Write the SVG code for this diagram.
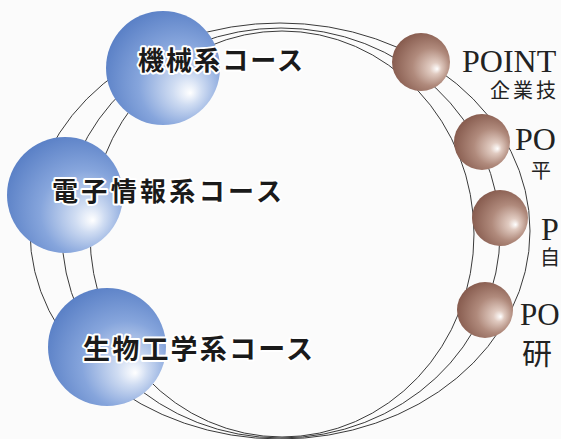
<svg xmlns="http://www.w3.org/2000/svg" width="561" height="439" viewBox="0 0 561 439">
<defs>
<radialGradient id="blue" cx="0.6" cy="0.6" r="0.64" fx="0.74" fy="0.72">
<stop offset="0" stop-color="#ffffff"/>
<stop offset="0.2" stop-color="#cfdcf2"/>
<stop offset="0.58" stop-color="#86a5dc"/>
<stop offset="1" stop-color="#5a80c6"/>
</radialGradient>
<radialGradient id="brown" cx="0.58" cy="0.55" r="0.62" fx="0.78" fy="0.62">
<stop offset="0" stop-color="#ffffff"/>
<stop offset="0.16" stop-color="#e0cac0"/>
<stop offset="0.52" stop-color="#b08a7c"/>
<stop offset="1" stop-color="#83574a"/>
</radialGradient>
<style>
.ring{fill:none;stroke:#3a3a3a;stroke-width:1}
.blue{fill:url(#blue)}
.brown{fill:url(#brown)}
.course{font-family:"Noto Sans CJK JP","Noto Sans CJK SC",sans-serif;font-weight:bold;fill:#1a1a1a;stroke:#ffffff;stroke-width:4;stroke-linejoin:round;paint-order:stroke}
.pt{font-family:"Liberation Serif","Noto Sans CJK JP",serif;fill:#222}
.sub{font-family:"Liberation Serif","Noto Sans CJK JP",serif;fill:#222}
</style>
</defs>
<rect width="561" height="439" fill="#fbfbfb"/>
<g id="connectors">
<ellipse class="ring" cx="280" cy="231" rx="250" ry="208"/>
<ellipse class="ring" cx="281" cy="233" rx="219" ry="205"/>
<ellipse class="ring" cx="282" cy="234" rx="192" ry="203"/>
</g>
<g id="kikai">
<circle class="blue" cx="163" cy="68" r="57"/>
<text class="course" x="138" y="70" font-size="26" textLength="165" lengthAdjust="spacing">機械系コース</text>
</g>
<g id="denshi">
<circle class="blue" cx="65" cy="195" r="58"/>
<text class="course" x="52" y="201" font-size="26" textLength="230" lengthAdjust="spacing">電子情報系コース</text>
</g>
<g id="seibutsu">
<circle class="blue" cx="107" cy="347" r="59"/>
<text class="course" x="83" y="359" font-size="27" textLength="230" lengthAdjust="spacing">生物工学系コース</text>
</g>
<g id="point1">
<circle class="brown" cx="421" cy="62" r="29"/>
<text class="pt" x="462" y="72" style="font-size:32px">POINT</text>
<text class="sub" x="490" y="98" style="font-size:20px" letter-spacing="3">企業技</text>
</g>
<g id="point2">
<circle class="brown" cx="482" cy="142" r="28"/>
<text class="pt" x="515" y="150" style="font-size:32px">PO</text>
<text class="sub" x="531" y="178" style="font-size:20px">平</text>
</g>
<g id="point3">
<circle class="brown" cx="500" cy="218" r="28"/>
<text class="pt" x="541" y="240" style="font-size:32px">P</text>
<text class="sub" x="540" y="265" style="font-size:20px">自</text>
</g>
<g id="point4">
<circle class="brown" cx="485" cy="310" r="28"/>
<text class="pt" x="520" y="325" style="font-size:31px">PO</text>
<text class="sub" x="522" y="364" style="font-size:30px">研</text>
</g>
</svg>
